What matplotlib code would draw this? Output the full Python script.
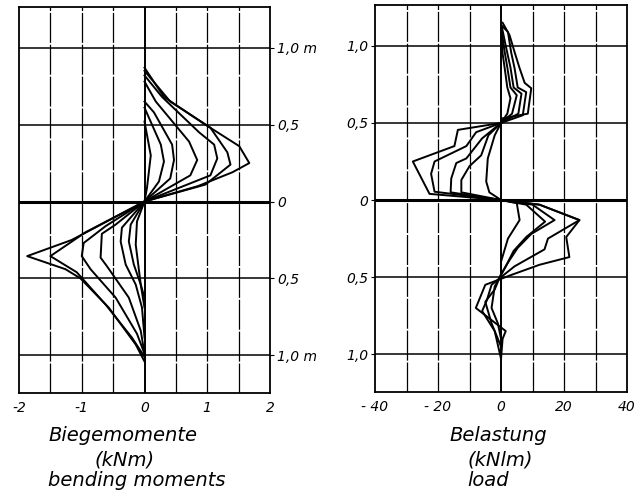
import numpy as np
import matplotlib.pyplot as plt

plt.rcParams['font.family'] = 'DejaVu Sans'

# depth axis (m), shown as absolute values on both sides of 0
depth_ticks = [1.0, 0.5, 0.0, -0.5, -1.0]
moment_depth_labels = ['1,0 m', '0,5', '0', '0,5', '1,0 m']
load_depth_labels = ['1,0', '0,5', '0', '0,5', '1,0']
moment_ticks = [-2, -1, 0, 1, 2]
load_ticks = [-40, -20, 0, 20, 40]

# bending moments (kNm) vs depth
moment_x = [
    [0, 0.31, 0.97, 1.51, 1.67, 1.40, 0.85, 0, -1.16, -1.87, -1.26, -1.02, -0.57, -0.14, 0],
    [0, 0.41, 1.05, 1.32, 1.37, 0.97, 0, -0.94, -1.50, -1.08, -0.62, -0.20, 0],
    [0, 0.28, 0.87, 1.11, 1.16, 1.05, 0, -0.62, -0.97, -1.00, -0.86, -0.46, -0.12, 0],
    [0, 0.18, 0.71, 0.84, 0.73, 0, -0.46, -0.68, -0.70, -0.60, -0.25, -0.06, 0],
    [0, 0.15, 0.44, 0.47, 0.41, 0, -0.36, -0.38, -0.30, -0.14, -0.04, 0],
    [0, 0.26, 0.31, 0.23, 0, -0.22, -0.25, -0.17, -0.06, 0],
    [0, 0.10, 0.04, 0, -0.12, -0.14, -0.06, 0],
]
moment_y = [
    [0.87, 0.68, 0.50, 0.36, 0.25, 0.19, 0.10, 0, -0.25, -0.355, -0.44, -0.50, -0.69, -0.93, -1.04],
    [0.85, 0.65, 0.48, 0.32, 0.24, 0.11, 0, -0.20, -0.355, -0.46, -0.67, -0.885, -1.01],
    [0.82, 0.68, 0.45, 0.37, 0.28, 0.17, 0, -0.16, -0.27, -0.355, -0.44, -0.625, -0.86, -0.99],
    [0.78, 0.65, 0.39, 0.27, 0.17, 0, -0.15, -0.21, -0.365, -0.42, -0.625, -0.84, -0.99],
    [0.65, 0.58, 0.37, 0.27, 0.15, 0, -0.17, -0.26, -0.41, -0.54, -0.69, -0.885],
    [0.61, 0.37, 0.26, 0.13, 0, -0.15, -0.26, -0.41, -0.54, -0.69],
    [0.52, 0.30, 0.09, 0, -0.13, -0.28, -0.54, -0.625],
]

# load (kN/m) vs depth
load_x = [
    [0.5, 2.7, 4.3, 5.9, 7.5, 9.6, 8.5, 0.5, 0, -13.7, -14.8, -28.0, -22.7, 0, 12.2, 24.9,
     20.7, 21.7, 12.2, 2.7, -5.0, -8.0, 1.5, 0.5, 0],
    [0.3, 2.2, 3.2, 4.3, 5.3, 8.0, 6.9, 0, -7.9, -11.0, -21.1, -22.2, -21.1, 0, 12.2, 24.9,
     14.9, 13.8, 4.3, 0, -3.0, -4.5, -6.0, -2.0, 0],
    [0.3, 1.5, 3.0, 4.0, 6.5, 5.5, 0, -6.0, -11.0, -14.2, -15.8, -16.0, 0, 10.0, 17.0,
     9.6, 5.3, 2.7, 0, -2.0, -5.0, -3.0, 0],
    [0.2, 1.0, 2.0, 3.0, 5.0, 3.5, 0, -4.0, -6.3, -10.0, -12.6, -12.6, 0, 8.0, 14.0,
     8.0, 4.0, 1.0, -2.0, -3.0, -1.0, 0],
    [0.1, 0.5, 1.2, 2.0, 3.0, 2.0, 0, -2.0, -4.2, -4.7, -3.7, 0, 5.0, 5.9, 2.2, 0, 0],
]
load_y = [
    [1.15, 1.07, 0.96, 0.855, 0.76, 0.725, 0.56, 0.53, 0.50, 0.455, 0.35, 0.25, 0.04, 0.0,
     -0.03, -0.13, -0.24, -0.37, -0.42, -0.49, -0.55, -0.70, -0.85, -0.90, -1.03],
    [1.13, 1.09, 0.96, 0.855, 0.73, 0.70, 0.55, 0.50, 0.44, 0.35, 0.25, 0.17, 0.054, 0,
     -0.03, -0.13, -0.25, -0.32, -0.43, -0.50, -0.55, -0.65, -0.72, -0.85, -1.03],
    [1.12, 1.0, 0.86, 0.73, 0.69, 0.56, 0.50, 0.40, 0.27, 0.24, 0.14, 0.05, 0, -0.03, -0.13,
     -0.22, -0.31, -0.39, -0.48, -0.58, -0.66, -0.80, -0.95],
    [1.10, 0.98, 0.86, 0.73, 0.68, 0.56, 0.50, 0.42, 0.29, 0.22, 0.13, 0.05, 0, -0.03, -0.14,
     -0.24, -0.33, -0.45, -0.56, -0.70, -0.80, -0.90],
    [1.08, 0.95, 0.85, 0.73, 0.66, 0.56, 0.50, 0.42, 0.27, 0.12, 0.05, 0, -0.02, -0.13,
     -0.25, -0.40, -0.60],
]

fig = plt.figure(figsize=(6.38, 4.95), dpi=100)
ax1 = fig.add_axes([0.0298, 0.2061, 0.3934, 0.7798])
ax2 = fig.add_axes([0.5878, 0.2081, 0.3950, 0.7818])


def grid_lines(ax, xmin, xmax, step):
    for xv in np.arange(xmin + step, xmax, step):
        if abs(xv) < 1e-9:
            ax.axvline(0, color='black', lw=1.4, zorder=1)
        else:
            ax.axvline(xv, color='black', lw=0.9, ls=(0, (24, 1.5)), zorder=1)
    for yv in [1.0, 0.5, -0.5, -1.0]:
        ax.axhline(yv, color='black', lw=1.1, zorder=1)
    ax.axhline(0, color='black', lw=2.2, zorder=3)
    ax.set_xlim(xmin, xmax)
    ax.set_ylim(-1.245, 1.265)
    for s in ax.spines.values():
        s.set_linewidth(1.3)


grid_lines(ax1, -2, 2, 0.5)
grid_lines(ax2, -40, 40, 10)

for xs, ys in zip(moment_x, moment_y):
    ax1.plot(xs, ys, color='black', lw=1.4, zorder=2)
for xs, ys in zip(load_x, load_y):
    ax2.plot(xs, ys, color='black', lw=1.4, zorder=2)

tick_font = dict(fontsize=10, style='italic')

ax1.set_xticks(moment_ticks)
ax1.set_xticklabels([str(t) if t >= 0 else '-' + str(-t) for t in moment_ticks], **tick_font)
ax1.yaxis.tick_right()
ax1.set_yticks(depth_ticks)
ax1.set_yticklabels(moment_depth_labels, **tick_font)
ax1.tick_params(axis='x', length=0, pad=6)
ax1.tick_params(axis='y', length=3, pad=2, direction='out')

ax2.set_xticks(load_ticks)
ax2.set_xticklabels([str(t) if t >= 0 else '- ' + str(-t) for t in load_ticks], **tick_font)
ax2.set_yticks(depth_ticks)
ax2.set_yticklabels(load_depth_labels, **tick_font)
ax2.tick_params(axis='x', length=0, pad=6)
ax2.tick_params(axis='y', length=3, pad=2, direction='out')

title_font = dict(fontsize=14, style='italic')
fig.text(0.0752, 0.110, 'Biegemomente', ha='left', va='baseline', **title_font)
fig.text(0.196, 0.059, '(kNm)', ha='center', va='baseline', **title_font)
fig.text(0.0752, 0.019, 'bending moments', ha='left', va='baseline', **title_font)
fig.text(0.781, 0.110, 'Belastung', ha='center', va='baseline', **title_font)
fig.text(0.784, 0.059, '(kNlm)', ha='center', va='baseline', **title_font)
fig.text(0.732, 0.019, 'load', ha='left', va='baseline', **title_font)

fig.savefig('out.png', dpi=100)
